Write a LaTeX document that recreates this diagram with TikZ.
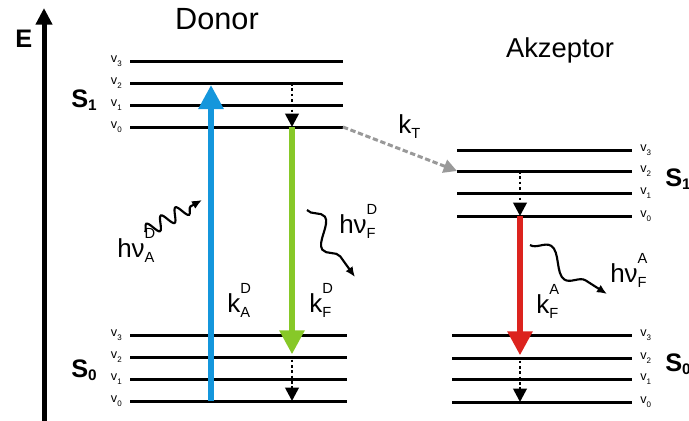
\documentclass[tikz,border=0pt]{standalone}
\usepackage{amsmath}
\usepackage{fontspec}
\setmainfont{Liberation Sans}
\usetikzlibrary{
  arrows.meta,%
  % wavy photon arrows
  decorations.pathmorphing,%
  positioning
}
\tikzset{>=latex}
\definecolor{absblue}{RGB}{20,150,220}
\definecolor{fluogreen}{RGB}{135,200,40}
\definecolor{fluored}{RGB}{220,35,30}
% base with a superscript over a subscript
\newcommand{\supsub}[3]{#1\rlap{\raisebox{0.7em}{\fontsize{11}{11}\selectfont #2}}\raisebox{-0.22em}{\fontsize{11}{11}\selectfont #3}}
\newcommand{\vib}[1]{v\raisebox{-0.35em}{\fontsize{6}{6}\selectfont #1}}
\newcommand{\state}[1]{S\raisebox{-0.15em}{\fontsize{11.5}{11.5}\selectfont #1}}
\tikzset{
  level/.style={line width=2.25pt},
  vlab/.style={inner sep=0pt, font=\fontsize{9.5}{9.5}\selectfont},
  slab/.style={inner sep=0pt, anchor=base west, font=\fontsize{19}{19}\selectfont\bfseries},
  klab/.style={inner sep=0pt, anchor=base west, font=\fontsize{19.5}{19.5}\selectfont},
  title/.style={inner sep=0pt, anchor=base, font=\fontsize{23}{23}\selectfont},
  transition/.style={line width=4.3pt, -{Triangle[length=18pt,width=18pt]}},
  vibrelax/.style={line width=2pt, dotted, -{Triangle[length=10pt,width=10pt]}},
  photon/.style={line width=1.6pt, -{Latex[length=7.5pt,width=6.5pt]}, decorate},
}
\begin{document}
\begin{tikzpicture}[x=0.75pt, y=-0.75pt]
  \clip (0,0) rectangle (689,421);
  % energy axis
  \coordinate (Ebot) at (44,421);
  \coordinate (Etop) at (44,8);
  \draw[line width=3.75pt, -{Triangle[length=12.5pt,width=12pt]}] (Ebot) -- (Etop);
  \node[slab, font=\fontsize{19}{19}\selectfont\bfseries] (E) at (15,47) {E};
  % titles
  \node[title] (donor) at (217,29) {Donor};
  \node[title, font=\fontsize{20.5}{20.5}\selectfont] (akz) at (560,57) {Akzeptor};
  % donor levels
  \foreach \i/\y in {0/127,1/105,2/83,3/61}{
    \coordinate (DSv\i w) at (130,\y);
    \coordinate (DSv\i e) at (343,\y);
    \draw[level] (DSv\i w) -- (DSv\i e);
    \node[vlab, left=6pt of DSv\i w] {\vib{\i}};
  }
  \foreach \i/\y in {0/401,1/379,2/357,3/335}{
    \coordinate (DGv\i w) at (130,\y);
    \coordinate (DGv\i e) at (347,\y);
    \draw[level] (DGv\i w) -- (DGv\i e);
    \node[vlab, left=6pt of DGv\i w] {\vib{\i}};
  }
  % acceptor levels
  \foreach \i/\y in {0/216,1/193,2/171,3/150}{
    \coordinate (ASv\i w) at (457,\y);
    \coordinate (ASv\i e) at (632,\y);
    \draw[level] (ASv\i w) -- (ASv\i e);
    \node[vlab, right=6pt of ASv\i e] {\vib{\i}};
  }
  \foreach \i/\y in {0/402,1/379,2/358,3/335}{
    \coordinate (AGv\i w) at (452,\y);
    \coordinate (AGv\i e) at (632,\y);
    \draw[level] (AGv\i w) -- (AGv\i e);
    \node[vlab, right=6pt of AGv\i e] {\vib{\i}};
  }
  % state labels
  \node[slab] (DS1) at (71,107) {\state{1}};
  \node[slab] (DS0) at (71,377) {\state{0}};
  \node[slab] (AS1) at (665,186) {\state{1}};
  \node[slab] (AS0) at (665,371) {\state{0}};
  % x positions of the transitions
  \coordinate (absX) at (211,0);
  \coordinate (emDX) at (292,0);
  \coordinate (emAX) at (520,0);
  % absorption and fluorescence
  \draw[transition, absblue] (DGv0w -| absX) -- ([yshift=-1.5pt]DSv2w -| absX);
  \draw[transition, fluogreen] (DSv0w -| emDX) -- ([yshift=2pt]DGv2w -| emDX);
  \draw[transition, fluored] (ASv0w -| emAX) -- ([yshift=2pt]AGv2w -| emAX);
  % vibrational relaxation
  \draw[vibrelax] (DSv2w -| emDX) -- (DSv0w -| emDX);
  \draw[vibrelax] ([yshift=-2pt]DGv2w -| emDX) -- (DGv0w -| emDX);
  \draw[vibrelax] (ASv2w -| emAX) -- (ASv0w -| emAX);
  \draw[vibrelax] ([yshift=-2pt]AGv2w -| emAX) -- (AGv0w -| emAX);
  % energy transfer
  \draw[gray!80, line width=2.25pt, dash pattern=on 4pt off 2pt,
    -{Triangle[length=10pt,width=10pt]}] (DSv0e) -- (ASv2w);
  \node[klab] (kT) at (398,133) {k\raisebox{-0.22em}{\fontsize{11}{11}\selectfont T}};
  % photons
  \coordinate (phAs) at (145,232);
  \coordinate (phAe) at (202,200);
  \draw[photon, decoration={snake, segment length=12.5pt, amplitude=5pt, post length=5pt}] (phAs) -- (phAe);
  \coordinate (phDs) at (307,210);
  \coordinate (phDe) at (355,277);
  \draw[photon, decoration={snake, segment length=38pt, amplitude=8pt, post length=6pt}] (phDs) -- (phDe);
  \coordinate (phFs) at (530,245);
  \coordinate (phFe) at (607,294);
  \draw[photon, decoration={snake, segment length=44pt, amplitude=8pt, post length=6pt}] (phFs) -- (phFe);
  % labels
  \node[klab] (hvAD) at (117,257) {\supsub{hν}{D}{A}};
  \node[klab] (hvFD) at (339,233) {\supsub{hν}{D}{F}};
  \node[klab] (hvFA) at (610,282) {\supsub{hν}{A}{F}};
  \node[klab] (kAD) at (227,312) {\supsub{k}{D}{A}};
  \node[klab] (kFD) at (309,312) {\supsub{k}{D}{F}};
  \node[klab] (kFA) at (536,313) {\supsub{k}{A}{F}};
\end{tikzpicture}
\end{document}
